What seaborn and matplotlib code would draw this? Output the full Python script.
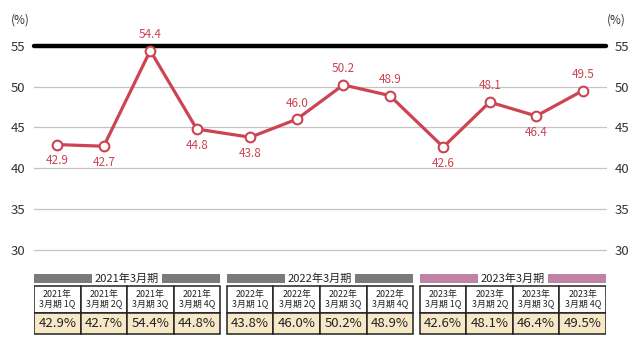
import matplotlib
matplotlib.use("Agg")
import matplotlib.pyplot as plt
from matplotlib.patches import Rectangle
import seaborn as sns
import pandas as pd

# ---- data ----
fiscal_years = ["2021年3月期", "2022年3月期", "2023年3月期"]
quarters = ["1Q", "2Q", "3Q", "4Q"]
year_labels = ["2021年", "2022年", "2023年"]
values = [42.9, 42.7, 54.4, 44.8, 43.8, 46.0, 50.2, 48.9, 42.6, 48.1, 46.4, 49.5]
label_above = [False, False, True, False, False, True, True, True, False, True, False, True]
yticks = [30, 35, 40, 45, 50, 55]
group_colors = ["#7a7a7a", "#7a7a7a", "#c083a3"]

sns.set_theme(style="white")
plt.rcParams["font.family"] = ["Noto Sans CJK JP", "DejaVu Sans"]

RED = "#cc4452"
GAP = 0.15
W, H = 637, 348

xpos = []
for g in range(3):
    for j in range(4):
        xpos.append(g * (4 + GAP) + j + 0.5)
XMAX = 3 * 4 + 2 * GAP

df = pd.DataFrame({"x": xpos, "v": values})

fig = plt.figure(figsize=(W / 100, H / 100), dpi=100)
left_px, right_px = 34, 606
top_px, bot_px = 45.7, 250
ax = fig.add_axes([left_px / W, (H - bot_px) / H, (right_px - left_px) / W, (bot_px - top_px) / H])

# grid lines
for t in yticks:
    if t == 55:
        ax.axhline(t, color="black", lw=3.2, zorder=1, clip_on=False)
    else:
        ax.axhline(t, color="#c4c4c4", lw=0.9, zorder=1, clip_on=False)

sns.lineplot(data=df, x="x", y="v", ax=ax, color=RED, lw=2.3, marker="o",
             markersize=7, markerfacecolor="white", markeredgecolor=RED,
             markeredgewidth=1.5, zorder=3, clip_on=False)

for x, v, up in zip(xpos, values, label_above):
    ax.annotate(f"{v:.1f}", (x, v), xytext=(0, 7 if up else -7), textcoords="offset points",
                ha="center", va="bottom" if up else "top", color=RED, fontsize=8.5)

ax.set_xlim(0, XMAX)
ax.set_ylim(30, 55)
ax.set_yticks(yticks)
ax.set_yticklabels([str(t) for t in yticks])
ax.set_xticks([])
ax.set_xlabel("")
ax.set_ylabel("")
ax.tick_params(axis="y", length=0, pad=6, labelsize=9.5, labelcolor="#333333",
               labelleft=True, labelright=True)
for s in ax.spines.values():
    s.set_visible(False)

fig.text(20 / W, 1 - 20 / H, "(%)", ha="center", va="center", fontsize=8.5, color="#333333")
fig.text(616 / W, 1 - 20 / H, "(%)", ha="center", va="center", fontsize=8.5, color="#333333")

# ---- table ----
tb_top, tb_bot = 268, 340
tax = fig.add_axes([left_px / W, (H - tb_bot) / H, (right_px - left_px) / W, (tb_bot - tb_top) / H])
tax.set_xlim(0, XMAX)
tax.set_ylim(tb_bot, tb_top)
tax.axis("off")

for g in range(3):
    gx = g * (4 + GAP)
    cx = gx + 2
    half = 0.76
    tax.add_patch(Rectangle((gx, 274), cx - half - gx, 8.5, color=group_colors[g], lw=0))
    tax.add_patch(Rectangle((cx + half, 274), gx + 4 - cx - half, 8.5, color=group_colors[g], lw=0))
    tax.text(cx, 278.5, fiscal_years[g], ha="center", va="center", fontsize=8, color="#222222")
    for j in range(4):
        x0 = gx + j
        tax.add_patch(Rectangle((x0, 286), 1, 27, facecolor="white", edgecolor="#222222", lw=1.1))
        tax.add_patch(Rectangle((x0, 313), 1, 21, facecolor="#f7e8c8", edgecolor="#222222", lw=1.1))
        tax.text(x0 + 0.5, 299.5, f"{year_labels[g]}\n3月期 {quarters[j]}", ha="center", va="center",
                 fontsize=6.4, color="#222222", linespacing=1.0)
        tax.text(x0 + 0.5, 323.5, f"{values[g * 4 + j]:.1f}%", ha="center", va="center",
                 fontsize=9.5, color="#222222")

fig.savefig("out.png", dpi=100)
